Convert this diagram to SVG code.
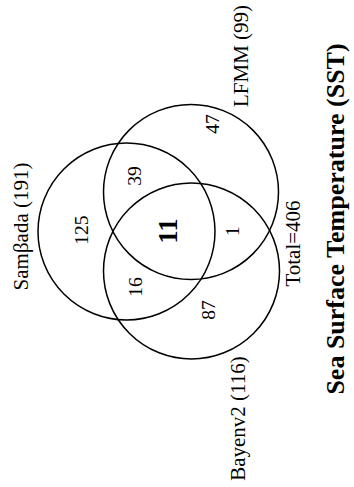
<svg xmlns="http://www.w3.org/2000/svg" width="354" height="487" viewBox="0 0 354 487">
<style>
.c{fill:none;stroke:#000;stroke-width:1.5}
.t{font-family:"Liberation Serif","Times New Roman",serif;fill:#000;text-anchor:middle}
.lab{font-size:21px}
.num{font-size:19.5px}
.big{font-size:27px;font-weight:bold}
.title{font-size:26px;font-weight:bold}
</style>
<rect width="354" height="487" fill="#fff"/>
<g id="sets">
<g id="sambada"><circle class="c" cx="126.5" cy="231.5" r="88.5"/></g>
<g id="lfmm"><circle class="c" cx="191" cy="192" r="87.5"/></g>
<g id="bayenv2"><circle class="c" cx="191.5" cy="271" r="88"/></g>
</g>
<g id="connectors"></g>
<g id="labels">
<text class="t lab" transform="translate(27.5,226.5) rotate(-90)">Samβada (191)</text>
<text class="t lab" transform="translate(247.5,56) rotate(-90)">LFMM (99)</text>
<text class="t lab" transform="translate(300,243.5) rotate(-90)">Total=406</text>
<text class="t lab" transform="translate(245,418.5) rotate(-90)">Bayenv2 (116)</text>
<text class="t title" transform="translate(344,219) rotate(-90)">Sea Surface Temperature (SST)</text>
</g>
<g id="counts">
<text class="t num" transform="translate(88,230) rotate(-90)">125</text>
<text class="t num" transform="translate(141,176) rotate(-90)">39</text>
<text class="t num" transform="translate(219,124) rotate(-90)">47</text>
<text class="t big" transform="translate(177,231) rotate(-90)">11</text>
<text class="t num" transform="translate(239,231) rotate(-90)">1</text>
<text class="t num" transform="translate(142,287) rotate(-90)">16</text>
<text class="t num" transform="translate(215,310) rotate(-90)">87</text>
</g>
</svg>
